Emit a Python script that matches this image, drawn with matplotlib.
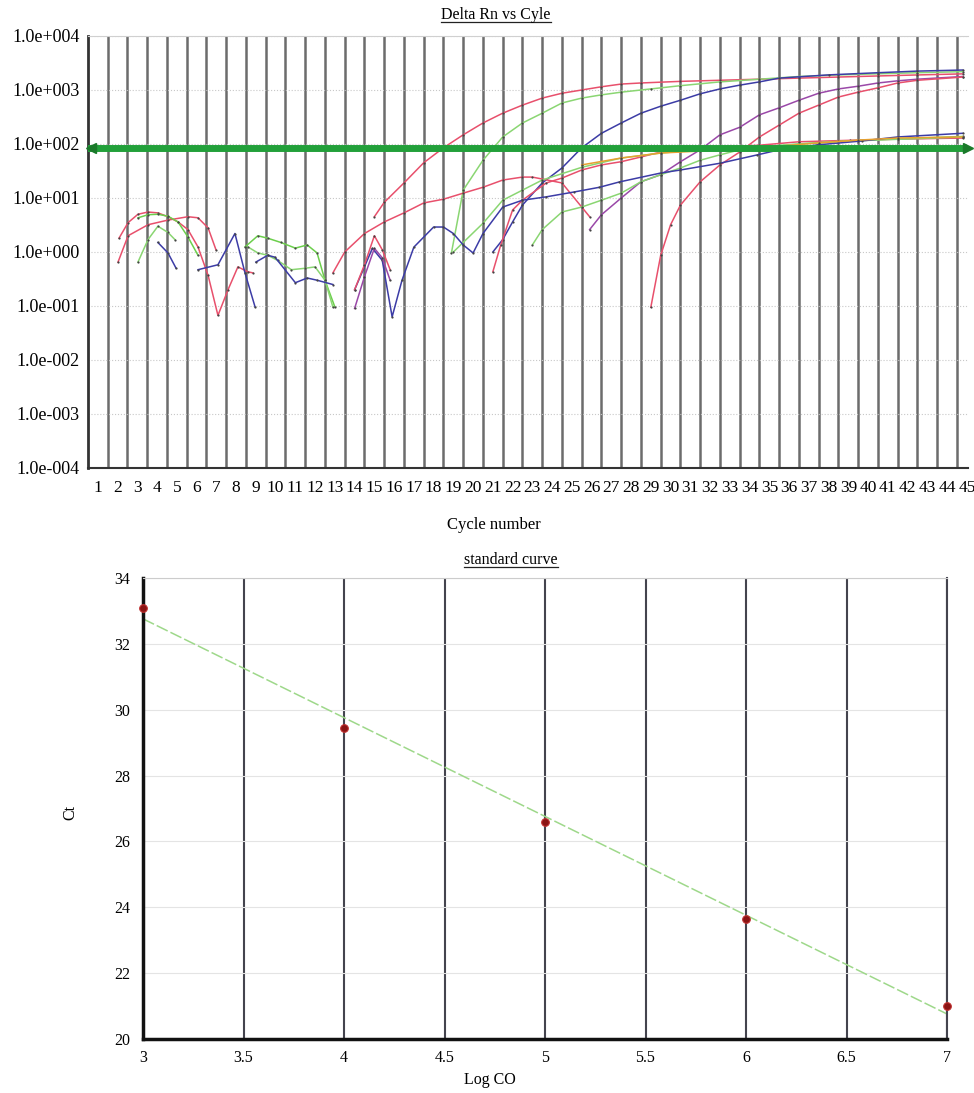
import numpy as np
import matplotlib
matplotlib.use("Agg")
import matplotlib.pyplot as plt
from matplotlib.lines import Line2D

plt.rcParams['font.family'] = ['Liberation Serif', 'DejaVu Serif']

# ---- amplification plot data (cycle position, delta Rn) ----
cycle_labels = [str(k) for k in range(1, 46)]
ytick_vals = [1e-4, 1e-3, 1e-2, 1e-1, 1e0, 1e1, 1e2, 1e3, 1e4]
ytick_text = ["1.0e-004", "1.0e-003", "1.0e-002", "1.0e-001", "1.0e+000",
              "1.0e+001", "1.0e+002", "1.0e+003", "1.0e+004"]
threshold = 84

# high plateau curves
red_a_x = [14.5, 15, 16, 17, 18, 19, 20, 21, 22, 23, 24, 25, 26, 27, 28, 30, 32, 34, 36, 38, 40, 42, 44.3]
red_a_y = [4.5, 8.3, 19, 45, 85, 148, 245, 372, 525, 708, 871, 1000, 1148, 1288, 1349, 1445, 1514, 1585,
           1660, 1738, 1820, 1900, 1990]
green_a_x = [18.4, 19, 20, 21, 22, 23, 24, 25, 26, 27, 28.5, 30, 32, 34, 36, 38, 40, 42, 44.3]
green_a_y = [0.95, 14, 50, 135, 245, 372, 575, 708, 813, 912, 1047, 1202, 1413, 1585, 1778, 1905, 1995, 2089, 2188]
blue_a_x = [20.5, 21, 21.5, 22, 23, 24, 25, 26, 27, 28, 29, 30, 31, 32, 33, 34, 35, 37.5, 40, 42, 44.3]
blue_a_y = [1.0, 1.7, 3.6, 7.4, 19, 36, 85, 158, 245, 372, 501, 646, 851, 1047, 1230, 1413, 1660, 1905,
            2089, 2239, 2344]
purple_a_x = [25.4, 26, 27, 28, 29, 30, 31, 32, 33, 34, 35, 36, 37, 38, 39, 40, 41, 42, 44.3]
purple_a_y = [2.6, 4.9, 10, 20, 27, 47, 78, 148, 204, 347, 468, 646, 871, 1047, 1175, 1349, 1479, 1585, 1778]
red_b_x = [28.5, 29, 29.5, 30, 31, 32, 33, 34, 35, 36, 37, 38, 39, 40, 41, 42, 44.3]
red_b_y = [0.095, 0.87, 3.2, 7.4, 20, 41, 71, 135, 224, 372, 525, 741, 912, 1096, 1349, 1514, 1738]

# low plateau curves
red_c_x = [12.4, 13, 14, 15, 16, 17, 18, 19, 20, 21, 22, 22.5, 24, 25, 25.4]
red_c_y = [0.41, 1.0, 2.2, 3.6, 5.3, 8.1, 9.5, 12.3, 15.8, 21.5, 24.4, 24.4, 19, 6.8, 4.5]
red_d_x = [20.5, 20.9, 21.5, 22, 23.2, 24, 25, 26, 27, 28, 29, 30, 31, 32, 33, 34, 36, 38.6, 41, 44.3]
red_d_y = [0.43, 1.35, 6.0, 9.1, 19, 23.4, 33, 41, 47, 57.5, 71, 78, 85, 87, 91, 95, 110, 117, 123, 129]
green_b_x = [18.5, 20, 21, 22, 23, 25, 27, 29, 31, 34, 36, 39, 44.3]
green_b_y = [1.0, 3.4, 9.1, 14, 21.5, 37, 55, 68, 78, 87, 100, 115, 135]
green_c_x = [22.5, 23, 24, 25, 26, 27, 28, 29, 30, 31, 32, 33, 34, 36, 38, 41, 44.3]
green_c_y = [1.35, 2.6, 5.5, 6.8, 9.1, 12.3, 20, 27, 36, 50, 63, 78, 88, 100, 112, 125, 138]
blue_b_x = [13.5, 14.4, 14.9, 15.4, 15.9, 16.5, 17.5, 18, 18.5, 19, 19.5, 20, 21, 22, 23.2, 24.6, 25.9,
            26.9, 29, 30, 32, 33.9, 35, 36.9, 39.2, 41, 44.3]
blue_b_y = [0.2, 1.17, 0.7, 0.063, 0.3, 1.23, 2.9, 2.9, 2.2, 1.35, 0.96, 2.2, 6.8, 9.1, 10.5, 12.9, 15.8,
            19.8, 29, 33, 44, 63, 78, 96, 114, 135, 158]
orange_x = [25, 27, 29, 31, 33, 35, 37, 39, 41, 44.3]
orange_y = [41, 55, 68, 74, 81, 91, 105, 118, 129, 135]

# early noise
red1_x = [1.57, 2.03, 2.53, 3.04, 3.54, 4.05, 4.56, 5.06, 5.57, 6.08, 6.58, 7.09, 7.59, 8.1, 8.35]
red1_y = [1.8, 3.5, 5.0, 5.5, 5.3, 4.5, 3.6, 2.6, 1.24, 0.37, 0.067, 0.2, 0.53, 0.43, 0.41]
red2_x = [1.52, 2.03, 3.04, 4.05, 5.06, 5.57, 6.08, 6.48]
red2_y = [0.65, 2.0, 3.2, 3.9, 4.5, 4.3, 2.8, 1.1]
green1_x = [2.53, 3.04, 3.54, 4.05, 4.56, 5.06, 5.57]
green1_y = [4.3, 4.9, 5.0, 4.6, 3.6, 1.9, 0.87]
green2_x = [2.53, 3.04, 3.54, 4.05, 4.4]
green2_y = [0.65, 1.7, 3.0, 2.3, 1.7]
blue1_x = [3.54, 4.05, 4.46]
blue1_y = [1.5, 0.96, 0.5]
blue2_x = [5.57, 6.58, 7.44, 7.95, 8.46]
blue2_y = [0.47, 0.58, 2.2, 0.41, 0.096]
green3_x = [7.95, 8.6, 9.1, 9.77, 10.5, 11.1, 11.6, 12.0, 12.5]
green3_y = [1.24, 2.0, 1.8, 1.5, 1.18, 1.35, 0.96, 0.3, 0.096]
green4_x = [8.1, 8.6, 9.1, 9.6, 10.3, 11.0, 11.5, 12.0, 12.4]
green4_y = [1.24, 0.96, 0.87, 0.7, 0.47, 0.5, 0.53, 0.3, 0.096]
blue3_x = [8.5, 9.1, 9.47, 10.5, 11.1, 11.6, 12.4]
blue3_y = [0.65, 0.87, 0.8, 0.27, 0.33, 0.3, 0.25]
purple_n_x = [13.5, 14.0, 14.5, 14.9, 15.3]
purple_n_y = [0.09, 0.35, 1.17, 0.78, 0.3]
red_n_x = [13.5, 14.0, 14.5, 14.9, 15.3]
red_n_y = [0.2, 0.58, 2.0, 1.1, 0.47]

# ---- standard curve data ----
log_co = [3, 4, 5, 6, 7]
ct = [33.1, 29.45, 26.6, 23.65, 21.0]

RED = '#e8506c'
GREEN = '#8ad672'
BLUE = '#3c3ca6'
PURPLE = '#9a48a8'
ORANGE = '#e6a030'
BRIGHT_GREEN = '#6ccf4c'

fig = plt.figure(figsize=(9.74, 10.93), dpi=100)
fig.patch.set_facecolor('white')

# ===================== top : Delta Rn vs cycle =====================
ax1 = fig.add_axes([88 / 974, 1 - 468 / 1093, 880 / 974, 432 / 1093])
ax1.set_yscale('log')
ax1.set_ylim(1e-4, 1e4)
ax1.set_xlim(0, 44.56)

curves = [
    (red_a_x, red_a_y, RED), (green_a_x, green_a_y, GREEN), (blue_a_x, blue_a_y, BLUE),
    (purple_a_x, purple_a_y, PURPLE), (red_b_x, red_b_y, RED),
    (red_c_x, red_c_y, RED), (red_d_x, red_d_y, RED), (green_b_x, green_b_y, GREEN),
    (green_c_x, green_c_y, GREEN), (blue_b_x, blue_b_y, BLUE), (orange_x, orange_y, ORANGE),
    (red1_x, red1_y, RED), (red2_x, red2_y, RED), (green1_x, green1_y, BRIGHT_GREEN),
    (green2_x, green2_y, GREEN), (blue1_x, blue1_y, BLUE), (blue2_x, blue2_y, BLUE),
    (green3_x, green3_y, BRIGHT_GREEN), (green4_x, green4_y, GREEN), (blue3_x, blue3_y, BLUE),
    (purple_n_x, purple_n_y, PURPLE), (red_n_x, red_n_y, RED),
]
for xs, ys, col in curves:
    ax1.plot(xs, ys, color=col, lw=1.1, marker='o', ms=1.6, mfc='#444444', mec='none', zorder=3)

# threshold line with arrow heads
ax1.axhline(threshold, color='#22a03a', lw=5, zorder=4)
ax1.plot([0.15], [threshold], marker='<', ms=7, color='#1a7a2a', clip_on=False, zorder=5)
ax1.plot([44.56], [threshold], marker='>', ms=7, color='#1a7a2a', clip_on=False, zorder=5)

ax1.set_yticks(ytick_vals)
ax1.set_yticklabels(ytick_text)
ax1.yaxis.set_minor_locator(matplotlib.ticker.NullLocator())
ax1.set_xticks([k - 0.5 for k in range(1, 46)])
ax1.set_xticklabels(cycle_labels)
ax1.set_xticks(np.arange(1, 45), minor=True)
ax1.tick_params(axis='both', which='both', length=0)
ax1.tick_params(axis='x', labelsize=12.5, pad=9)
ax1.tick_params(axis='y', labelsize=13, pad=6)
ax1.grid(True, which='minor', axis='x', color='#6c6c6c', lw=1.8)
ax1.grid(True, which='major', axis='y', color='#c8c8c8', lw=0.8, ls=':')
ax1.spines['left'].set_color('#333333')
ax1.spines['left'].set_linewidth(2)
ax1.spines['bottom'].set_color('#333333')
ax1.spines['bottom'].set_linewidth(1.5)
ax1.spines['top'].set_color('#d0d0d0')
ax1.spines['right'].set_visible(False)

t1 = fig.text(496 / 974, 1 - 15 / 1093, "Delta Rn vs Cyle", ha='center', va='center', fontsize=11.5)
fig.text(494 / 974, 1 - 525 / 1093, "Cycle number", ha='center', va='center', fontsize=12)

# ===================== bottom : standard curve =====================
ax2 = fig.add_axes([143 / 974, 1 - 1039 / 1093, 804 / 974, 461 / 1093])
ax2.set_xlim(3, 7)
ax2.set_ylim(20, 34)

slope, intercept = np.polyfit(log_co, ct, 1)
fx = np.array([3, 7])
ax2.plot(fx, slope * fx + intercept, color='#9ed88a', lw=1.1, ls=(0, (8, 2)), zorder=2)
ax2.plot(log_co, ct, 'o', ms=5.5, color='#8a1414', mec='#c03030', mew=0.8, clip_on=False, zorder=4)

ax2.set_xticks([3, 3.5, 4, 4.5, 5, 5.5, 6, 6.5, 7])
ax2.set_xticklabels(['3', '3.5', '4', '4.5', '5', '5.5', '6', '6.5', '7'])
ax2.set_yticks([20, 22, 24, 26, 28, 30, 32, 34])
ax2.tick_params(axis='both', length=0, labelsize=11.5)
ax2.tick_params(axis='x', pad=8)
ax2.tick_params(axis='y', pad=9)
ax2.grid(True, axis='x', color='#44444e', lw=1.5)
ax2.grid(True, axis='y', color='#e4e4e4', lw=0.8)
ax2.spines['left'].set_linewidth(2.5)
ax2.spines['left'].set_color('#111111')
ax2.spines['bottom'].set_linewidth(2.5)
ax2.spines['bottom'].set_color('#111111')
ax2.spines['top'].set_color('#cccccc')
ax2.spines['right'].set_color('#44444e')
ax2.spines['right'].set_linewidth(1.5)

t2 = fig.text(511 / 974, 1 - 560 / 1093, "standard curve", ha='center', va='center', fontsize=11.5)
fig.text(490 / 974, 1 - 1080 / 1093, "Log CO", ha='center', va='center', fontsize=11.5)
fig.text(70 / 974, 1 - 812 / 1093, "Ct", ha='center', va='center', fontsize=11.5, rotation=90)

# underline the two titles
fig.canvas.draw()
rend = fig.canvas.get_renderer()
for t in (t1, t2):
    bb = t.get_window_extent(rend).transformed(fig.transFigure.inverted())
    fig.add_artist(Line2D([bb.x0, bb.x1], [bb.y0 + 0.001, bb.y0 + 0.001], color='#222222', lw=0.9,
                          transform=fig.transFigure))

fig.savefig("out.png", dpi=100)
